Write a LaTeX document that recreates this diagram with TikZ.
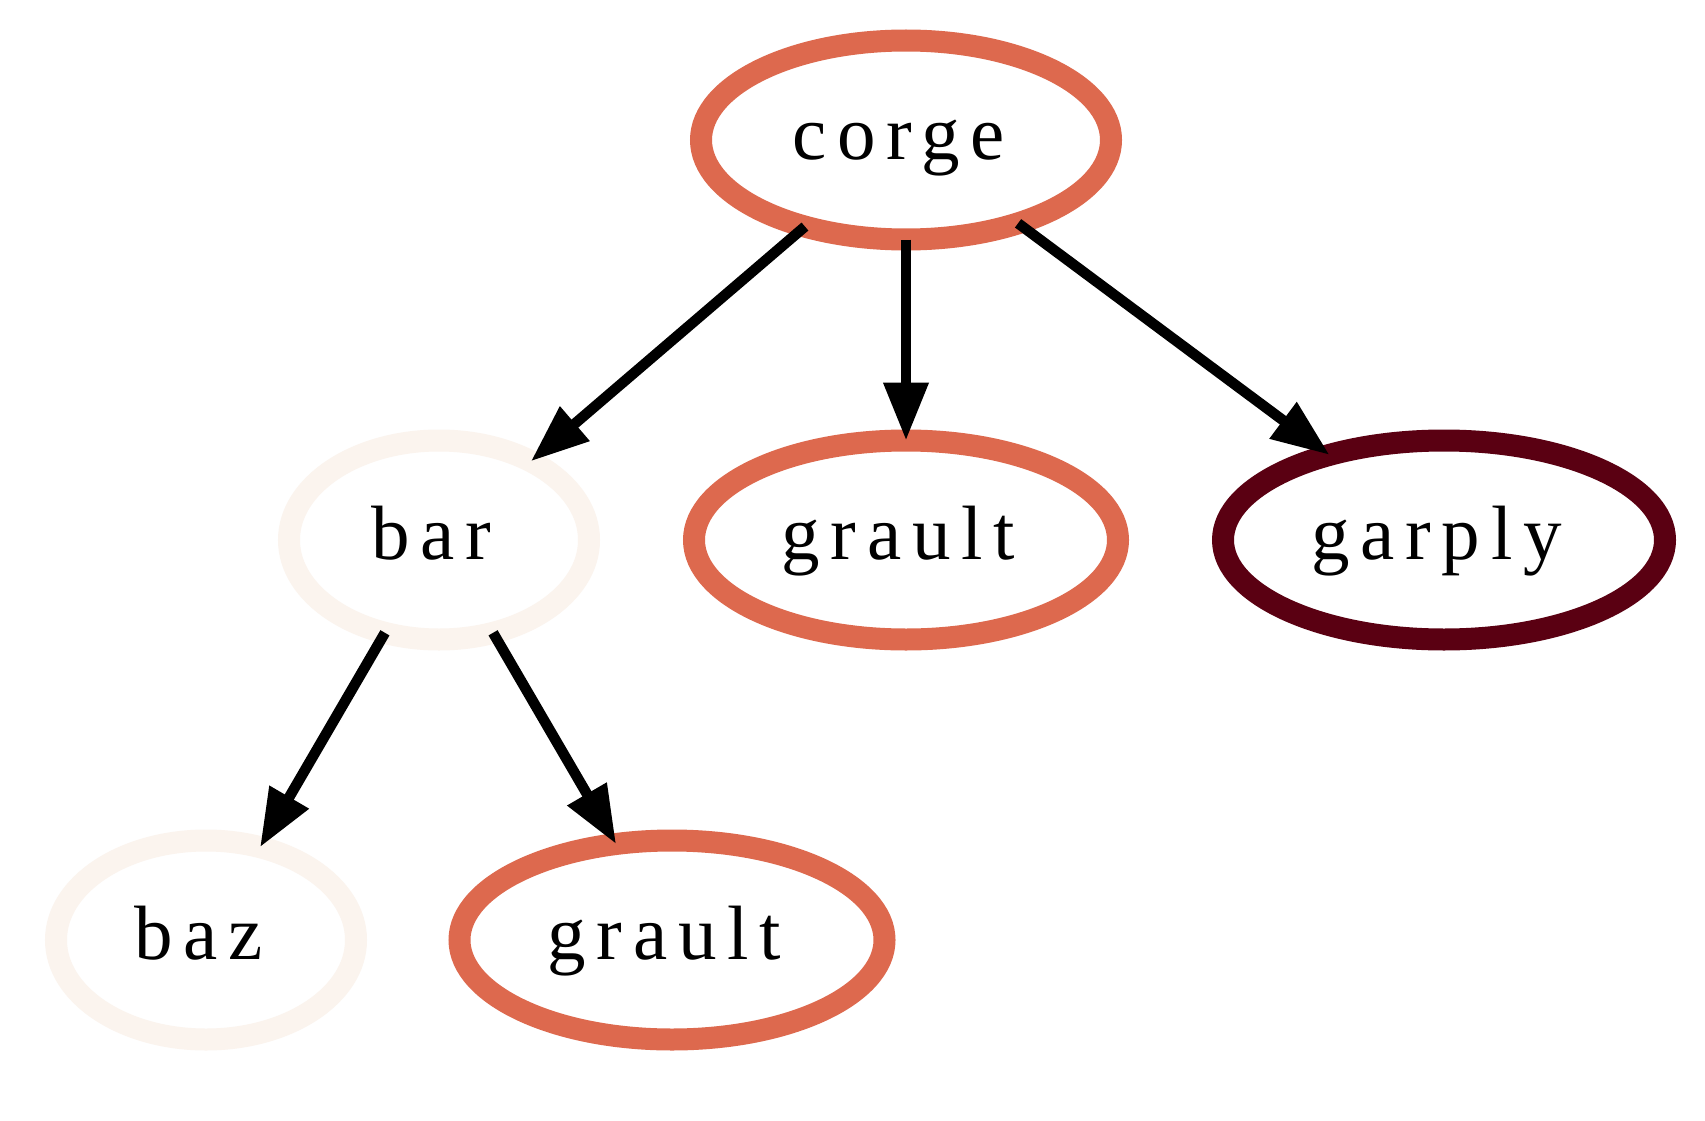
\documentclass[tikz,border=0pt]{standalone}
\usepackage{fontspec}
\setmainfont{Liberation Serif}[LetterSpace=14]
\usetikzlibrary{shapes.geometric,arrows.meta}
\definecolor{corange}{HTML}{DD694E}
\definecolor{clight}{HTML}{FBF4EE}
\definecolor{cdark}{HTML}{5A0012}
\newcommand{\lbl}[1]{#1\kern15pt}
\tikzset{
  gnode/.style={ellipse, draw, line width=22pt, inner sep=0pt, outer sep=0pt,
    minimum height=199pt, font=\fontsize{77}{90}\selectfont,
    text height=60pt, text depth=22pt},
  gedge/.style={line width=10.5pt, -{Triangle[length=58pt 0 0,width=43pt 0 0]}}
}
\begin{document}
\begin{tikzpicture}[x=1pt,y=-1pt]
\useasboundingbox[fill=white] (0,0) rectangle (1705,1121);
\node[gnode, draw=corange, minimum width=410pt] (corge) at (906,140) {\lbl{corge}};
\node[gnode, draw=clight, minimum width=300pt] (bar) at (439,540) {\lbl{bar}};
\node[gnode, draw=corange, minimum width=424pt] (grault) at (906,540) {\lbl{grault}};
\node[gnode, draw=cdark, minimum width=442pt] (garply) at (1444,540) {\lbl{garply}};
\node[gnode, draw=clight, minimum width=300pt] (baz) at (206,940) {\lbl{baz}};
\node[gnode, draw=corange, minimum width=425pt] (grault2) at (672,940) {\lbl{grault}};
\draw[gedge] (corge) -- (bar);
\draw[gedge] (corge) -- (grault);
\draw[gedge] (corge) -- (garply);
\draw[gedge] (bar) -- (baz);
\draw[gedge] (bar) -- (grault2);
\end{tikzpicture}
\end{document}
